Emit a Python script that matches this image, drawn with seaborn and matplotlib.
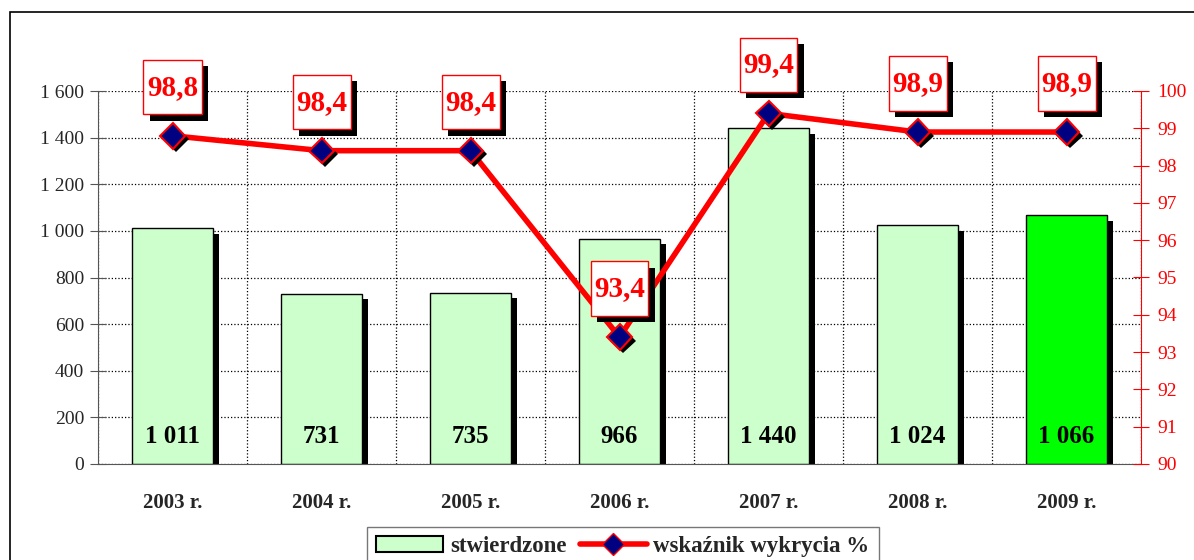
import numpy as np
import pandas as pd
import matplotlib
matplotlib.use("Agg")
import matplotlib.pyplot as plt
import matplotlib.patheffects as pe
from matplotlib.patches import Rectangle, Patch
from matplotlib.lines import Line2D
from matplotlib.path import Path
from matplotlib.ticker import FixedLocator, FuncFormatter
import seaborn as sns

years = ["2003 r.", "2004 r.", "2005 r.", "2006 r.", "2007 r.", "2008 r.", "2009 r."]
stwierdzone = [1011, 731, 735, 966, 1440, 1024, 1066]
wskaznik = [98.8, 98.4, 98.4, 93.4, 99.4, 98.9, 98.9]
bar_colors = ["#CCFFCC"] * 6 + ["#00FF00"]

sns.set_style("white")
plt.rcParams["font.family"] = ["Liberation Serif", "DejaVu Serif"]

df = pd.DataFrame({"rok": years, "stwierdzone": stwierdzone, "wskaznik": wskaznik})


def tall_box(x0, y0, width, height, mutation_size):
    # label boxes are taller than wide padding would give
    px, py = 0.12 * mutation_size, 0.47 * mutation_size
    x0, y0 = x0 - px, y0 - py
    x1, y1 = x0 + width + 2 * px, y0 + height + 2 * py
    return Path([(x0, y0), (x1, y0), (x1, y1), (x0, y1), (x0, y0)], closed=True)


fig = plt.figure(figsize=(11.94, 5.6), dpi=100)
ax = fig.add_axes([98 / 1194, 1 - 464 / 560, (1141 - 98) / 1194, (464 - 91) / 560])

sns.barplot(data=df, x="rok", y="stwierdzone", hue="rok", palette=bar_colors,
            legend=False, width=0.55, edgecolor="black", linewidth=1, saturation=1, ax=ax)
shadow = [pe.SimplePatchShadow(offset=(4, -4), shadow_rgbFace="black", alpha=1), pe.Normal()]
for p in ax.patches:
    p.set_path_effects(shadow)

for i, v in enumerate(stwierdzone):
    ax.text(i, 120, f"{v:,}".replace(",", " "), ha="center", va="center",
            fontsize=18, fontweight="bold", color="black", zorder=5)

ax.set_xlim(-0.5, len(years) - 0.5)
ax.set_ylim(0, 1600)
ax.yaxis.set_major_locator(FixedLocator(range(0, 1601, 200)))
ax.yaxis.set_major_formatter(FuncFormatter(lambda v, _: f"{int(v):,}".replace(",", " ")))
ax.xaxis.set_major_locator(FixedLocator(np.arange(-0.5, len(years), 1)))
ax.xaxis.set_minor_locator(FixedLocator(range(len(years))))
ax.set_xticklabels([], minor=False)
ax.set_xticklabels(years, minor=True, fontsize=15, fontweight="bold")
ax.tick_params(axis="x", which="major", direction="inout", length=14, color="#555555")
ax.tick_params(axis="x", which="minor", length=0, pad=21)
ax.tick_params(axis="y", direction="inout", length=12, color="#555555", labelsize=14, pad=4)
ax.set_xlabel("")
ax.set_ylabel("")
ax.grid(True, which="major", ls=":", color="black", lw=0.9)
ax.set_axisbelow(True)
for s in ["top", "right"]:
    ax.spines[s].set_visible(False)
ax.spines["left"].set_color("#555555")
ax.spines["bottom"].set_color("#555555")

ax2 = ax.twinx()
xs = np.arange(len(years))
sns.lineplot(x=xs, y=wskaznik, color="red", lw=4, ax=ax2)
ax2.plot(xs, wskaznik, "D", ms=13, mfc="#000080", mec="red", mew=1.5, zorder=4,
         path_effects=[pe.SimplePatchShadow(offset=(2.5, -2.5), shadow_rgbFace="black", alpha=1), pe.Normal()])
ax2.set_ylim(90, 100)
ax2.yaxis.set_major_locator(FixedLocator(range(90, 101)))
ax2.tick_params(axis="y", direction="inout", length=12, colors="red", labelsize=14, pad=6)
for s in ["top", "left", "bottom"]:
    ax2.spines[s].set_visible(False)
ax2.spines["right"].set_color("red")

for i, v in enumerate(wskaznik):
    ann = ax2.annotate(f"{v:.1f}".replace(".", ","), (i, v), xytext=(0, 35),
                       textcoords="offset points", ha="center", va="center",
                       fontsize=21, fontweight="bold", color="red", zorder=6,
                       bbox=dict(boxstyle=tall_box, fc="white", ec="red", lw=1))
    ann.get_bbox_patch().set_path_effects(
        [pe.SimplePatchShadow(offset=(4.5, -4.5), shadow_rgbFace="black", alpha=1), pe.Normal()])

handles = [Patch(facecolor="#CCFFCC", edgecolor="black", lw=1.5),
           Line2D([], [], color="red", lw=4, marker="D", ms=11, mfc="#000080", mec="red")]
leg = fig.legend(handles, ["stwierdzone", "wskaźnik wykrycia %"], loc="upper center",
                 bbox_to_anchor=(623 / 1194, 1 - 527 / 560), ncol=2, frameon=True,
                 fancybox=False, edgecolor="#555555", borderaxespad=0, columnspacing=0.6,
                 handletextpad=0.3, handlelength=2.9,
                 prop={"size": 16.5, "weight": "bold"})

fig.add_artist(Rectangle((10 / 1194, -0.2), 1.1, 1 - 12 / 560 + 0.2, transform=fig.transFigure,
                         fill=False, ec="black", lw=1.2))

fig.savefig("out.png", dpi=100)
